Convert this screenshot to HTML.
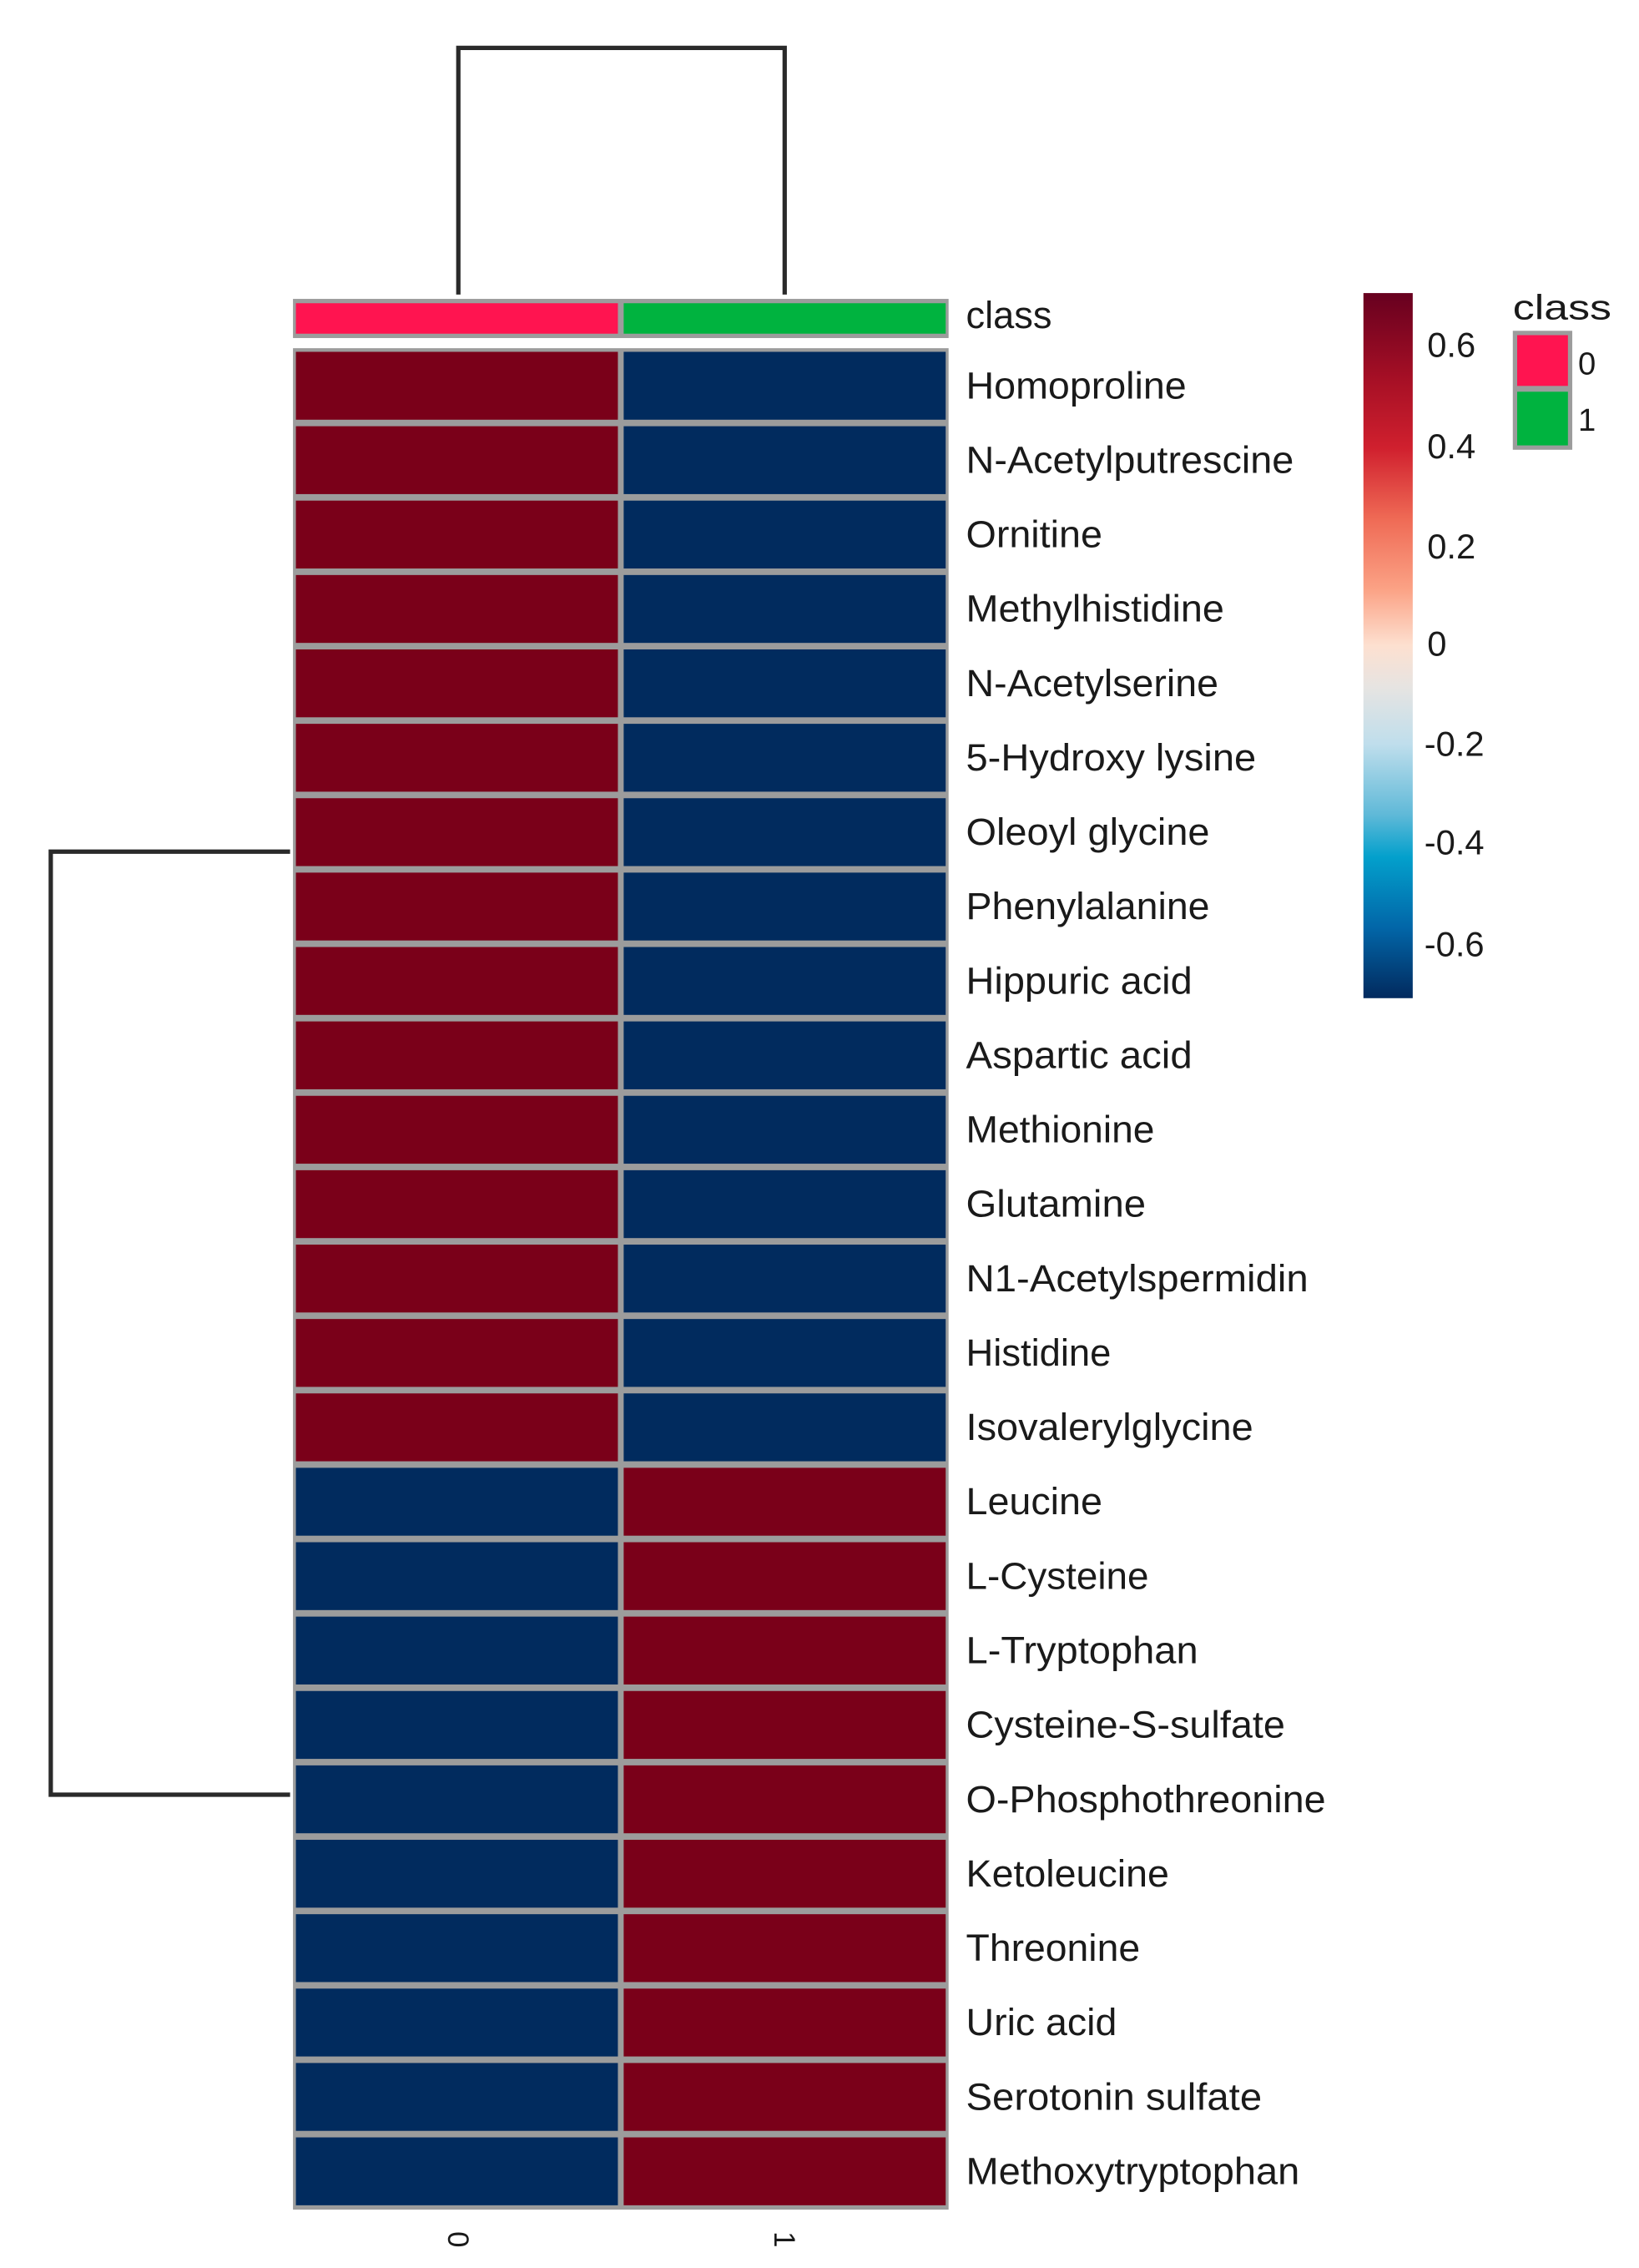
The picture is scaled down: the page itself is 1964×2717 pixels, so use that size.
<!DOCTYPE html>
<html><head><meta charset="utf-8"><style>html,body{margin:0;padding:0;background:#fff}svg{display:block}</style></head>
<body>
<svg width="1964" height="2717" viewBox="0 0 1130 1563.24" xmlns="http://www.w3.org/2000/svg" font-family="Liberation Sans, sans-serif">
<defs>
<linearGradient id="g" x1="0" y1="0" x2="0" y2="1">
<stop offset="0" stop-color="#67001f"/>
<stop offset="0.12" stop-color="#a50f25"/>
<stop offset="0.22" stop-color="#d0202e"/>
<stop offset="0.32" stop-color="#ef6a55"/>
<stop offset="0.42" stop-color="#fba285"/>
<stop offset="0.5" stop-color="#fde0d0"/>
<stop offset="0.56" stop-color="#e6e4e2"/>
<stop offset="0.64" stop-color="#bfdeec"/>
<stop offset="0.74" stop-color="#5fb9d8"/>
<stop offset="0.8" stop-color="#03a0cc"/>
<stop offset="0.9" stop-color="#0266a8"/>
<stop offset="1" stop-color="#022a5e"/>
</linearGradient>
</defs>
<polyline points="316,203 316,33 541,33 541,203" fill="none" stroke="#2a2a2a" stroke-width="3"/>
<polyline points="200,587 35,587 35,1237 200,1237" fill="none" stroke="#2a2a2a" stroke-width="3"/>
<rect x="202" y="206" width="452" height="27" fill="#9c9c9c"/>
<rect x="204" y="209" width="222" height="21" fill="#ff1450"/>
<rect x="430" y="209" width="222" height="21" fill="#00b33f"/>
<text x="666" y="226" font-size="26" fill="#1a1a1a">class</text>
<rect x="202" y="240" width="452" height="1283" fill="#9c9c9c"/>
<g id="cells"></g>
<script>
(function(){
var names=["Homoproline","N-Acetylputrescine","Ornitine","Methylhistidine","N-Acetylserine","5-Hydroxy lysine","Oleoyl glycine","Phenylalanine","Hippuric acid","Aspartic acid","Methionine","Glutamine","N1-Acetylspermidin","Histidine","Isovalerylglycine","Leucine","L-Cysteine","L-Tryptophan","Cysteine-S-sulfate","O-Phosphothreonine","Ketoleucine","Threonine","Uric acid","Serotonin sulfate","Methoxytryptophan"];
var ends=[818,892,760,844,840,866,834,834,822,822,796,790,902,766,864,760,792,826,886,914,806,786,770,870,896];
var ns="http://www.w3.org/2000/svg",g=document.getElementById("cells"),h=51.28;
for(var i=0;i<25;i++){
 var y=240+h*i;
 var red="#7a0019",blue="#012b5e";
 var c0=i<15?red:blue,c1=i<15?blue:red;
 var r=document.createElementNS(ns,"rect");r.setAttribute("x",204);r.setAttribute("y",y+2.5);r.setAttribute("width",222);r.setAttribute("height",h-4.5);r.setAttribute("fill",c0);g.appendChild(r);
 r=document.createElementNS(ns,"rect");r.setAttribute("x",430);r.setAttribute("y",y+2.5);r.setAttribute("width",222);r.setAttribute("height",h-4.5);r.setAttribute("fill",c1);g.appendChild(r);
 var t=document.createElementNS(ns,"text");t.setAttribute("x",666);t.setAttribute("y",y+h/2+9);t.setAttribute("font-size","26");t.setAttribute("fill","#1a1a1a");
 t.setAttribute("textLength",ends[i]-666);t.setAttribute("lengthAdjust","spacingAndGlyphs");t.textContent=names[i];g.appendChild(t);
}
})();
</script>
<text transform="translate(309,1538) rotate(90)" font-size="20" fill="#1a1a1a">0</text>
<text transform="translate(534,1538) rotate(90)" font-size="20" fill="#1a1a1a">1</text>
<rect x="940" y="202" width="34" height="486" fill="url(#g)"/>
<g font-size="24" fill="#1a1a1a">
<text x="984" y="246">0.6</text>
<text x="984" y="316">0.4</text>
<text x="984" y="385">0.2</text>
<text x="984" y="452">0</text>
<text x="982" y="521">-0.2</text>
<text x="982" y="589">-0.4</text>
<text x="982" y="659">-0.6</text>
</g>
<text x="1043" y="220" font-size="24" fill="#1a1a1a" textLength="68" lengthAdjust="spacingAndGlyphs">class</text>
<rect x="1043" y="228" width="41" height="82" fill="#9c9c9c"/>
<rect x="1046" y="231" width="35" height="35" fill="#ff1450"/>
<rect x="1046" y="270" width="35" height="37" fill="#00b33f"/>
<text x="1088" y="258" font-size="22" fill="#1a1a1a">0</text>
<text x="1088" y="297" font-size="22" fill="#1a1a1a">1</text>
</svg>
</body></html>
